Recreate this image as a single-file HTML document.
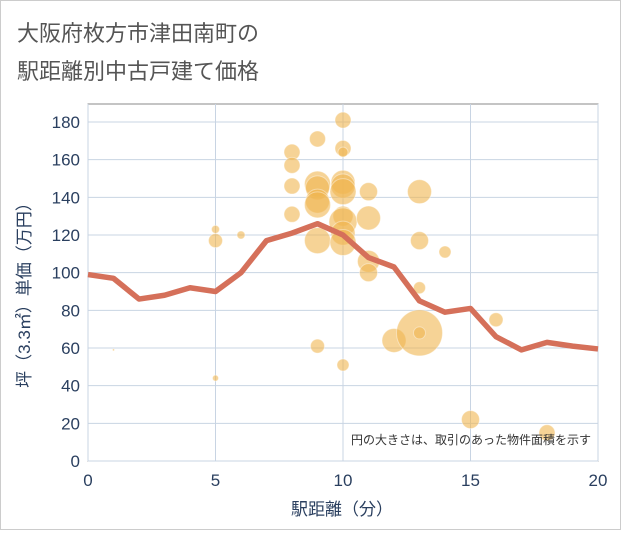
<!DOCTYPE html>
<html><head><meta charset="utf-8"><style>
body{margin:0;background:#fff;}
#wrap{width:619px;height:528px;border:1px solid #ccc;position:relative;font-family:"Liberation Sans","Noto Sans CJK JP",sans-serif;}
</style></head><body>
<div id="wrap">
<svg id="chart" width="619" height="528">
<text x="16" y="40" font-size="22" fill="#555" font-family="Liberation Sans, Noto Sans CJK JP, sans-serif">大阪府枚方市津田南町の</text>
<text x="16" y="78" font-size="22" fill="#555" font-family="Liberation Sans, Noto Sans CJK JP, sans-serif">駅距離別中古戸建て価格</text>
<g id="grid"></g><g id="bubbles"></g><g id="line"></g><g id="axes"></g>
<text x="590" y="443" font-size="12" fill="#333" text-anchor="end" font-family="Liberation Sans, Noto Sans CJK JP, sans-serif">円の大きさは、取引のあった物件面積を示す</text>
<text x="341" y="514" font-size="17" fill="#2a3f5f" text-anchor="middle" font-family="Liberation Sans, Noto Sans CJK JP, sans-serif">駅距離（分）</text>
<text transform="translate(29,290) rotate(-90)" font-size="17" fill="#2a3f5f" text-anchor="middle" font-family="Liberation Sans, Noto Sans CJK JP, sans-serif">坪（3.3㎡）単価（万円）</text>
</svg></div>
<script>
const xTicks=[0,5,10,15,20];
const yTicks=[0,20,40,60,80,100,120,140,160,180];
const bx=[1,5,5,5,6,8,8,8,8,9,9,9,9,9,9,9,10,10,10,10,10,10,10,10,10,10,10,11,11,11,11,12,13,13,13,13,13,14,15,16,18];
const by=[59,123,117,44,120,164,157,146,131,171,147,145,138,136,117,61,181,166,164,148,146,143,130,127,121,116,51,143,129,106,100,64,143,117,92,68,68,111,22,75,15];
const br=[1,4,7,3,4,8,8,8,8,8,13,12,12,13,13,7,8,8,5,12,12,13,10,14,12,13,6,9,12,11,9,12,12,9,6,23,6,6,9,7,8];
const lx=[0,1,2,3,4,5,6,7,8,9,10,11,12,13,14,15,16,17,18,19,20];
const ly=[99,97,86,88,92,90,100,117,121,126,120,108,103,85,79,81,66,59,63,61,59.5];
const L=87,R=597,T=103,B=460;
const X=v=>L+(v-0)/20*(R-L);
const Y=v=>B-v/180*339;
const NS="http://www.w3.org/2000/svg";
function mk(t,a,p){const e=document.createElementNS(NS,t);for(const k in a)e.setAttribute(k,a[k]);p.appendChild(e);return e;}
const g=document.getElementById('grid');
mk('rect',{x:L,y:T,width:R-L,height:B-T,fill:'none',stroke:'#888','stroke-width':1},g);
xTicks.forEach(v=>{const l=mk('line',{x1:X(v),x2:X(v),y1:T,y2:B,stroke:'#c8d4e3'},g);


const t=mk('text',{x:X(v),y:B+25,'font-size':17,fill:'#2a3f5f','text-anchor':'middle'},g);t.textContent=v;

});
yTicks.forEach(v=>{const l=mk('line',{x1:L,x2:R,y1:Y(v),y2:Y(v),stroke:'#c8d4e3'},g);


const t=mk('text',{x:L-8,y:Y(v)+6,'font-size':17,fill:'#2a3f5f','text-anchor':'end'},g);t.textContent=v;

});
const bg=document.getElementById('bubbles');
bx.forEach((v,i)=>{const c=mk('circle',{cx:X(v),cy:Y(by[i]),r:br[i],fill:'#f0b550','fill-opacity':0.6,stroke:'#fff','stroke-opacity':0.4},bg);

});
const pts=lx.map((v,i)=>X(v)+','+Y(ly[i])).join(' ');
const pl=mk('polyline',{points:pts,fill:'none',stroke:'#d5705a','stroke-width':5.5,'stroke-linejoin':'round'},document.getElementById('line'));


</script></body></html>
